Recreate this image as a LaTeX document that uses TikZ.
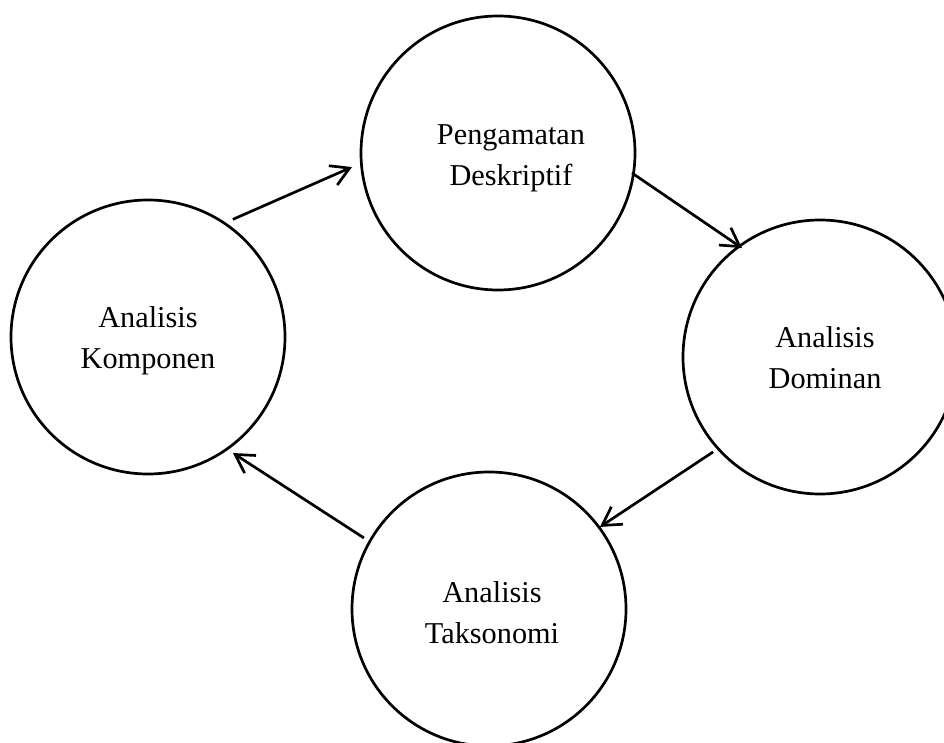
\documentclass[tikz,border=0pt]{standalone}
\usepackage{fontspec}
\setmainfont{Liberation Serif}
\usetikzlibrary{arrows.meta,calc}
\begin{document}
\begin{tikzpicture}[x=1pt,y=1pt,
  ring/.style={draw=black, line width=2.7pt, circle, minimum size=274pt, inner sep=0pt, outer sep=0pt},
  lbl/.style={anchor=base, align=center, inner sep=0pt, font=\fontsize{30.3}{41}\selectfont},
  conn/.style={line width=2.7pt, -{Straight Barb[length=18pt,width=21pt,line width=2.7pt]}}]
\fill[white] (0,0) rectangle (944,742);
\useasboundingbox (0,0) rectangle (944,742);
\node[ring] (T) at (498,589) {};
\node[ring] (R) at (820,385) {};
\node[ring] (L) at (148,405) {};
\node[ring] (B) at (489,133) {};
\node[lbl] (tT) at (511,556) {Pengamatan\\Deskriptif};
\node[lbl] (tR) at (825,353) {Analisis\\Dominan};
\node[lbl] (tL) at (148,373) {Analisis\\Komponen};
\node[lbl] (tB) at (492,99) {Analisis\\Taksonomi};
\draw[conn] ($(L.center)+(54.2:145)$) -- ($(T.center)+(185.5:146.7)$);
\draw[conn] ($(T.center)+(-8.5:135.5)$) -- ($(R.center)+(125.6:134)$);
\draw[conn] ($(R.center)+(221.6:143)$) -- ($(B.center)+(36.5:138)$);
\draw[conn] ($(B.center)+(150.4:143.8)$) -- ($(L.center)+(-53.8:143.8)$);
\end{tikzpicture}
\end{document}
